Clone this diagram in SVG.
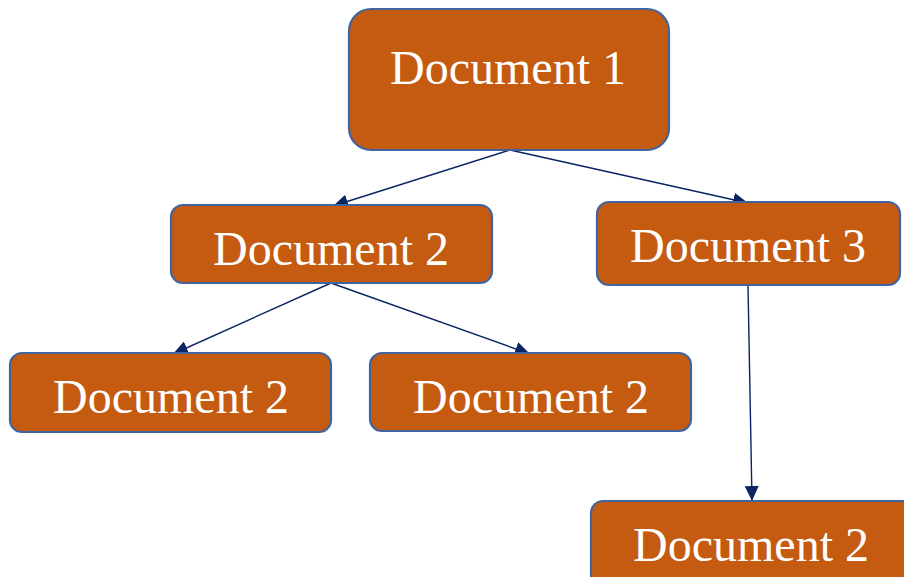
<svg xmlns="http://www.w3.org/2000/svg" width="904" height="577" viewBox="0 0 904 577">
<style>
.box{fill:#C55A11;stroke:#41649E;stroke-width:2.2}
.lbl{font-family:"Liberation Serif","Times New Roman",serif;font-size:48px;fill:#FFFFFF;text-anchor:middle}
.edge{stroke:#0A2464;stroke-width:1.4;fill:none;marker-end:url(#ah)}
</style>
<defs>
<marker id="ah" viewBox="0 0 15 14" refX="15" refY="7" markerWidth="15" markerHeight="14" markerUnits="userSpaceOnUse" orient="auto">
<path d="M0,0 L15,7 L0,14 z" fill="#0A2464"/>
</marker>
</defs>
<g id="connectors">
<line class="edge" x1="510" y1="150" x2="333" y2="206"/>
<line class="edge" x1="510" y1="150" x2="748" y2="203"/>
<line class="edge" x1="331" y1="283" x2="173" y2="354"/>
<line class="edge" x1="331" y1="283" x2="530" y2="354"/>
<line class="edge" x1="748" y1="285" x2="752" y2="501"/>
</g>
<g id="node-doc1">
<rect class="box" x="349" y="9" width="320" height="141" rx="22"/>
<text class="lbl" x="508" y="84">Document 1</text>
</g>
<g id="node-doc2">
<rect class="box" x="171" y="205" width="321" height="78" rx="12"/>
<text class="lbl" x="331" y="265">Document 2</text>
</g>
<g id="node-doc3">
<rect class="box" x="597" y="202" width="303" height="83" rx="12"/>
<text class="lbl" x="748" y="262">Document 3</text>
</g>
<g id="node-doc2a">
<rect class="box" x="10" y="353" width="321" height="79" rx="12"/>
<text class="lbl" x="171" y="413">Document 2</text>
</g>
<g id="node-doc2b">
<rect class="box" x="370" y="353" width="321" height="78" rx="12"/>
<text class="lbl" x="531" y="413">Document 2</text>
</g>
<g id="node-doc2c">
<rect class="box" x="591" y="501" width="330" height="90" rx="12"/>
<text class="lbl" x="751" y="561">Document 2</text>
</g>
</svg>
